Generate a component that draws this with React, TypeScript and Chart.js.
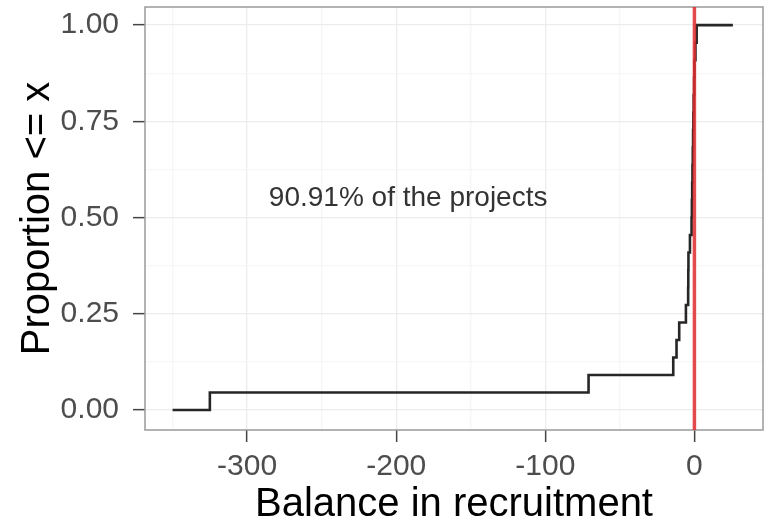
import React, { useEffect, useRef } from "react";
import { Chart, registerables } from "chart.js";

Chart.register(...registerables);

// ECDF step points (balance value, cumulative proportion)
const ecdfX = [-350, -325, -71, -14.2, -12, -10.2, -5.7, -4.2, -4.1, -4.0, -3.0, -1.9, -1.7, -1.5, -1.3, -1.1, -0.9, -0.7, -0.5, -0.2, 0, 0.7, 1.5, 25.8];
const ecdfY = [0, 0.0455, 0.0909, 0.1364, 0.1818, 0.2273, 0.2727, 0.3182, 0.3636, 0.4091, 0.4545, 0.5, 0.5455, 0.5909, 0.6364, 0.6818, 0.7273, 0.7727, 0.8182, 0.8636, 0.9091, 0.9545, 1, 1];

// reference line
const vlineX = 0;

// axes
const xMin = -368.5;
const xMax = 46;
const yMin = -0.052;
const yMax = 1.047;
const xTickValues = [-300, -200, -100, 0];
const xTickLabels = ["-300", "-200", "-100", "0"];
const xMinorValues = [-350, -250, -150, -50];
const yTickValues = [0, 0.25, 0.5, 0.75, 1];
const yTickLabels = ["0.00", "0.25", "0.50", "0.75", "1.00"];
const yMinorValues = [0.125, 0.375, 0.625, 0.875];

const xTitle = "Balance in recruitment";
const yTitle = "Proportion <= x";

// annotation
const annotText = "90.91% of the projects";
const annotX = -192;
const annotY = 0.5506;

const FONT = "'Liberation Sans', Arial, Helvetica, sans-serif";

const isMajor = (v: number, majors: number[]) => majors.some((m) => Math.abs(m - v) < 1e-9);

export default function App() {
  const ref = useRef<HTMLCanvasElement | null>(null);

  useEffect(() => {
    if (!ref.current) return;

    const panelPlugin = {
      id: "panel",
      beforeDatasetsDraw(chart: any) {
        const { ctx, chartArea } = chart;
        ctx.save();
        ctx.strokeStyle = "#9a9a9a";
        ctx.lineWidth = 1.5;
        ctx.strokeRect(chartArea.left, chartArea.top, chartArea.right - chartArea.left, chartArea.bottom - chartArea.top);
        ctx.restore();
      },
      afterDatasetsDraw(chart: any) {
        const { ctx } = chart;
        const xs = chart.scales.x;
        const ys = chart.scales.y;
        ctx.save();
        ctx.font = `28px ${FONT}`;
        ctx.fillStyle = "#333333";
        ctx.textAlign = "center";
        ctx.textBaseline = "middle";
        ctx.fillText(annotText, xs.getPixelForValue(annotX), ys.getPixelForValue(annotY));
        ctx.restore();
      },
    };

    const ecdfData = ecdfX.map((x, i) => ({ x, y: ecdfY[i] }));

    const chart = new Chart(ref.current, {
      type: "line",
      data: {
        datasets: [
          {
            label: "vline",
            data: [
              { x: vlineX, y: yMin },
              { x: vlineX, y: yMax },
            ],
            borderColor: "rgba(225, 45, 45, 0.85)",
            borderWidth: 3.5,
            pointRadius: 0,
            order: 0,
          },
          {
            label: "ecdf",
            data: ecdfData,
            borderColor: "#262626",
            borderWidth: 2.6,
            pointRadius: 0,
            stepped: "before",
            order: 1,
          },
        ],
      },
      options: {
        responsive: false,
        animation: false,
        layout: { padding: { top: 7, right: 6, left: 0, bottom: 0 } },
        plugins: {
          legend: { display: false },
          tooltip: { enabled: false },
        },
        scales: {
          x: {
            type: "linear",
            min: xMin,
            max: xMax,
            afterBuildTicks(scale: any) {
              scale.ticks = [...xMinorValues, ...xTickValues].sort((a, b) => a - b).map((v) => ({ value: v }));
            },
            afterFit(scale: any) {
              scale.height = 96;
              scale.paddingLeft = 0;
              scale.paddingRight = 0;
            },
            border: { display: false },
            grid: {
              color: (c: any) => (isMajor(c.tick.value, xTickValues) ? "#ececec" : "#f6f6f6"),
              lineWidth: 1.3,
              drawTicks: true,
              tickLength: 12,
              tickWidth: 1.5,
              tickColor: (c: any) => (isMajor(c.tick.value, xTickValues) ? "#444444" : "rgba(0,0,0,0)"),
            },
            ticks: {
              autoSkip: false,
              maxRotation: 0,
              padding: 7,
              color: "#4d4d4d",
              font: { family: FONT, size: 30, lineHeight: 1.2 },
              callback: (v: any) => {
                const i = xTickValues.findIndex((m) => Math.abs(m - v) < 1e-9);
                return i >= 0 ? xTickLabels[i] : "";
              },
            },
            title: {
              display: true,
              text: xTitle,
              color: "#000000",
              font: { family: FONT, size: 40, lineHeight: 1 },
              padding: { top: 0, bottom: 1 },
            },
          },
          y: {
            type: "linear",
            min: yMin,
            max: yMax,
            afterBuildTicks(scale: any) {
              scale.ticks = [...yMinorValues, ...yTickValues].sort((a, b) => a - b).map((v) => ({ value: v }));
            },
            afterFit(scale: any) {
              scale.width = 145;
              scale.paddingTop = 0;
              scale.paddingBottom = 0;
            },
            border: { display: false },
            grid: {
              color: (c: any) => (isMajor(c.tick.value, yTickValues) ? "#ececec" : "#f6f6f6"),
              lineWidth: 1.3,
              drawTicks: true,
              tickLength: 12,
              tickWidth: 1.5,
              tickColor: (c: any) => (isMajor(c.tick.value, yTickValues) ? "#444444" : "rgba(0,0,0,0)"),
            },
            ticks: {
              autoSkip: false,
              padding: 14,
              color: "#4d4d4d",
              font: { family: FONT, size: 30, lineHeight: 1.2 },
              callback: (v: any) => {
                const i = yTickValues.findIndex((m) => Math.abs(m - v) < 1e-9);
                return i >= 0 ? yTickLabels[i] : "";
              },
            },
            title: {
              display: true,
              text: yTitle,
              color: "#000000",
              font: { family: FONT, size: 40, lineHeight: 1 },
              padding: { top: 18, bottom: 0 },
            },
          },
        },
      },
      plugins: [panelPlugin],
    } as any);

    return () => chart.destroy();
  }, []);

  return (
    <div style={{ position: "fixed", left: 0, top: 0, width: 769, height: 526, background: "#ffffff" }}>
      <canvas ref={ref} width={769} height={526} style={{ display: "block" }} />
    </div>
  );
}
